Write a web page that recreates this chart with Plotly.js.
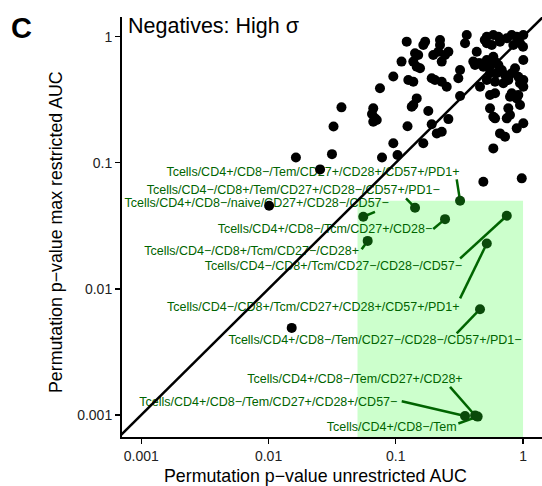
<!DOCTYPE html>
<html><head><meta charset="utf-8">
<script src="https://cdn.plot.ly/plotly-3.0.1.min.js"></script>
<style>html,body{margin:0;padding:0;background:#fff}</style>
</head><body><div id="chart" style="width:542px;height:486px"></div>
<script>
// Background feature sets: permutation p-values (unrestricted AUC, max restricted AUC)
const bgX = [0.0101,0.0152,0.0164,0.0254,0.0315,0.0324,0.0374,0.0665,0.065,0.0686,0.0665,0.0708,0.0751,0.0779,0.0956,0.0956,0.1031,0.1109,0.1218,0.1236,0.1254,0.1373,0.1373,0.1416,0.150,0.146,0.155,0.1645,0.170,0.146,0.1373,0.1334,0.180,0.1915,0.210,0.2296,0.1645,0.1915,0.2033,0.2296,0.2513,0.197,0.216,0.2226,0.2226,0.2296,0.2437,0.259,0.259,0.310,0.320,0.320,0.361,0.350,0.4325,0.4066,0.4453,0.459,0.519,0.584,0.640,0.519,0.5676,0.659,0.745,0.815,0.892,1.005,0.839,0.947,1.0,0.459,0.519,0.584,0.4875,0.550,0.6025,0.640,0.680,0.550,0.621,0.722,0.766,0.815,0.865,0.918,1.005,1.005,0.519,0.6025,0.700,0.550,0.6025,0.815,0.918,0.947,0.550,0.584,0.6025,0.79,0.892,0.947,0.766,0.79,0.745,1.005,0.892,0.659,0.722,0.584,0.4875,0.977,1.005,0.4194,0.50];
const bgY = [0.0456,0.0049,0.110,0.0886,0.117,0.194,0.275,0.270,0.2435,0.225,0.2115,0.218,0.390,0.110,0.1426,0.483,0.1151,0.634,0.913,0.1945,0.453,0.4395,0.634,0.738,0.716,0.578,0.561,0.859,0.913,0.324,0.287,0.278,0.257,0.2018,0.171,0.176,0.1426,0.4677,0.453,0.4395,0.401,0.716,0.760,0.942,0.859,0.634,0.716,0.760,0.222,0.4677,0.544,0.338,1.03,0.886,0.760,0.634,0.615,0.401,1.0,1.03,1.0,0.886,0.859,0.913,0.971,1.03,1.0,1.03,0.859,0.886,0.833,0.615,0.653,0.694,0.578,0.578,0.634,0.596,0.544,0.5124,0.5124,0.4966,0.453,0.5124,0.561,0.4815,0.653,0.453,0.453,0.4395,0.4266,0.3446,0.3554,0.3554,0.3446,0.4266,0.270,0.2317,0.225,0.334,0.324,0.287,0.270,0.239,0.225,0.2056,0.1875,0.171,0.1608,0.130,0.0707,0.0752,0.401,0.596,0.94];

// Highlighted feature sets
const hlNames = [
  "Tcells/CD4+/CD8\u2212/Tem/CD27+/CD28+/CD57+/PD1+",
  "Tcells/CD4\u2212/CD8+/Tem/CD27+/CD28\u2212/CD57+/PD1\u2212",
  "Tcells/CD4+/CD8\u2212/naive/CD27+/CD28\u2212/CD57\u2212",
  "Tcells/CD4+/CD8\u2212/Tcm/CD27+/CD28\u2212",
  "Tcells/CD4\u2212/CD8+/Tcm/CD27\u2212/CD28+",
  "Tcells/CD4\u2212/CD8+/Tcm/CD27\u2212/CD28\u2212/CD57\u2212",
  "Tcells/CD4\u2212/CD8+/Tcm/CD27+/CD28+/CD57+/PD1+",
  "Tcells/CD4+/CD8\u2212/Tem/CD27\u2212/CD28\u2212/CD57+/PD1\u2212",
  "Tcells/CD4+/CD8\u2212/Tem/CD27+/CD28+/CD57\u2212",
  "Tcells/CD4+/CD8\u2212/Tem/CD27+/CD28+",
  "Tcells/CD4+/CD8\u2212/Tem"
];
const hlX = [0.320,0.1416,0.0555,0.2437,0.0601,0.745,0.519,0.459,0.350,0.42,0.44];
const hlY = [0.0499,0.0440,0.0373,0.0357,0.0240,0.0380,0.0229,0.0069,0.00098,0.00099,0.00097];

// Label placement (repelled label centres) and leader-line start points
const labelX = [0.02234,0.01564,0.00806,0.02776,0.00736,0.0323,0.02246,0.0686,0.00995,0.04776,0.0928];
const labelY = [0.0833,0.0596,0.0468,0.0292,0.0197,0.01495,0.00712,0.00387,0.001254,0.00191,0.000788];
const leadX = [0.301,0.1203,0.0686,0.197,0.0539,0.320,0.320,0.301,0.1113,0.2668,0.310];
const leadY = [0.0738,0.0522,0.0408,0.0298,0.0206,0.0174,0.0084,0.00443,0.001285,0.001667,0.000855];

// Highlight region thresholds
const regionX = [0.05, 1];
const regionYTop = 0.05;

const xRange = [-3.152, 0.149];
const yRange = [-3.175, 0.156];

const segX = [], segY = [];
for (let i = 0; i < hlX.length; i++) {
  segX.push(leadX[i], hlX[i], null);
  segY.push(leadY[i], hlY[i], null);
}
const yLow = Math.pow(10, yRange[0]) * 0.5;
const diagLo = Math.pow(10, Math.min(xRange[0], yRange[0]) - 0.2);
const diagHi = Math.pow(10, Math.max(xRange[1], yRange[1]) + 0.2);

const green = '#006400';
const font = 'Liberation Sans, Arial, sans-serif';

const traces = [
  {x:[regionX[0],regionX[1],regionX[1],regionX[0],regionX[0]], y:[yLow,yLow,regionYTop,regionYTop,yLow],
   type:'scatter', mode:'lines', fill:'toself', fillcolor:'#ccffcc', line:{width:0, color:'rgba(0,0,0,0)'}, hoverinfo:'skip'},
  {x:labelX, y:labelY, text:hlNames, type:'scatter', mode:'text', textposition:'middle center',
   textfont:{family:font, size:12.5, color:green}, cliponaxis:false, hoverinfo:'skip'},
  {x:segX, y:segY, type:'scatter', mode:'lines', line:{color:green, width:2.5}, hoverinfo:'skip'},
  {x:bgX, y:bgY, type:'scatter', mode:'markers', marker:{color:'#000', size:10}},
  {x:hlX, y:hlY, type:'scatter', mode:'markers', marker:{color:'#0a4a0a', size:10}},
  {x:[diagLo, diagHi], y:[diagLo, diagHi], type:'scatter', mode:'lines', line:{color:'#000', width:2.5}, hoverinfo:'skip'}
];

const axisCommon = {
  type:'log', showgrid:false, zeroline:false, showline:true, linecolor:'#000', linewidth:2,
  ticks:'outside', ticklen:5, tickwidth:1.3, tickcolor:'#000',
  tickvals:[0.001,0.01,0.1,1], ticktext:['0.001','0.01','0.1','1'],
  tickfont:{family:font, size:14, color:'#222'}, automargin:false
};

const titleFont = {family:font, size:17.8, color:'#000'};

const layout = {
  width:542, height:486, showlegend:false,
  paper_bgcolor:'#fff', plot_bgcolor:'#fff',
  margin:{l:122, r:0, t:17, b:49},
  font:{family:font, color:'#000'},
  title:{text:'Negatives: High \u03c3', x:128/542, xanchor:'left', xref:'container', y:1-25/486, yanchor:'middle', yref:'container',
         font:{family:font, size:21.5, color:'#000'}},
  xaxis:Object.assign({}, axisCommon, {range:xRange}),
  yaxis:Object.assign({}, axisCommon, {range:yRange}),
  annotations:[
    {text:'<b>C</b>', xref:'paper', yref:'paper', x:-0.27, y:(437-28)/420, xanchor:'left', yanchor:'middle',
     showarrow:false, font:{family:font, size:29, color:'#000'}},
    {text:'Permutation p\u2212value unrestricted AUC', xref:'paper', yref:'paper', x:(315-122)/420, y:(437-476)/420,
     xanchor:'center', yanchor:'middle', showarrow:false, font:titleFont},
    {text:'Permutation p\u2212value max restricted AUC', xref:'paper', yref:'paper', x:(56-122)/420, y:(437-232)/420,
     xanchor:'center', yanchor:'middle', textangle:-90, showarrow:false, font:titleFont}
  ]
};

Plotly.newPlot('chart', traces, layout, {displayModeBar:false, staticPlot:true});
</script>
</body></html>
